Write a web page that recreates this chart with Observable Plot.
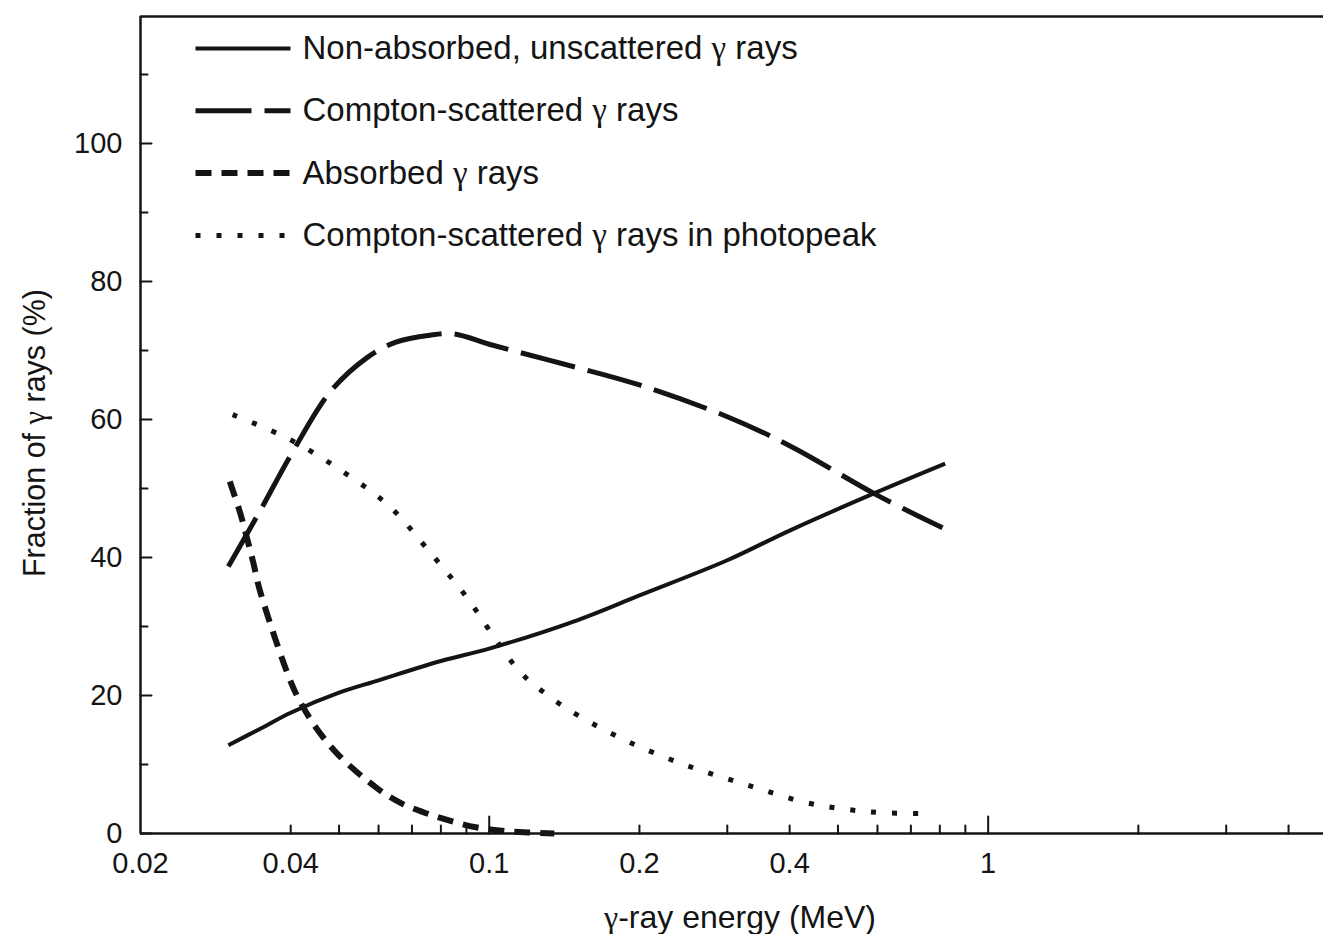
<!DOCTYPE html>
<html>
<head>
<meta charset="utf-8">
<script src="https://cdn.jsdelivr.net/npm/d3@7"></script>
<script src="https://cdn.jsdelivr.net/npm/@observablehq/plot@0.6"></script>
<style>
  html, body { margin: 0; padding: 0; background: #ffffff; overflow: hidden; }
  #chart svg { display: block; }
  .greek { font-family: 'Liberation Serif', 'Times New Roman', serif; }
</style>
</head>
<body>
<div id="chart"></div>
<script>
// ---------- data ----------
const seriesNames = [
  "Non-absorbed, unscattered \u03b3 rays",
  "Compton-scattered \u03b3 rays",
  "Absorbed \u03b3 rays",
  "Compton-scattered \u03b3 rays in photopeak"
];

const energyUnscattered = [0.030, 0.035, 0.040, 0.050, 0.060, 0.080, 0.100, 0.150, 0.200, 0.300, 0.400, 0.600, 0.820];
const fracUnscattered   = [12.8, 15.3, 17.5, 20.4, 22.2, 25.0, 26.8, 30.9, 34.5, 39.6, 43.9, 49.5, 53.6];

const energyCompton = [0.030, 0.035, 0.040, 0.048, 0.057, 0.065, 0.076, 0.085, 0.100, 0.130, 0.200, 0.300, 0.400, 0.600, 0.810];
const fracCompton   = [38.7, 47.2, 54.8, 64.0, 69.0, 71.2, 72.2, 72.4, 70.9, 68.7, 65.0, 60.4, 56.2, 49.0, 44.3];

const energyAbsorbed = [0.0302, 0.0317, 0.0327, 0.0337, 0.0347, 0.040, 0.042, 0.045, 0.050, 0.060, 0.067, 0.075, 0.083, 0.094, 0.106, 0.120, 0.135];
const fracAbsorbed   = [51.0, 46.4, 42.8, 39.1, 35.2, 22.0, 18.8, 15.3, 11.3, 6.4, 4.3, 2.9, 1.9, 0.9, 0.4, 0.15, 0.0];

const energyPhotopeak = [0.0306, 0.0396, 0.0505, 0.0631, 0.0762, 0.0904, 0.100, 0.115, 0.130, 0.150, 0.190, 0.250, 0.330, 0.430, 0.520, 0.620, 0.766];
const fracPhotopeak   = [60.7, 57.2, 52.6, 47.4, 40.7, 34.1, 29.5, 23.5, 20.2, 17.2, 13.3, 9.8, 7.0, 4.5, 3.5, 3.0, 2.9];

// axes
const xDomain = [0.02, 4.7];
const yDomain = [0, 118.4];
const xTickLabels = [0.02, 0.04, 0.1, 0.2, 0.4, 1];
const xMajorTicks = [0.1, 1];
const xMinorTicks = [0.04, 0.05, 0.06, 0.07, 0.08, 0.09, 0.2, 0.3, 0.4, 0.5, 0.6, 0.7, 0.8, 0.9, 2, 3, 4];
const yMajorTicks = [0, 20, 40, 60, 80, 100];
const yMinorTicks = [10, 30, 50, 70, 90, 110];
const xTitle = "\u03b3-ray energy (MeV)";
const yTitle = "Fraction of \u03b3 rays (%)";

// ---------- build table ----------
const toRows = (name, xs, ys) => xs.map((e, i) => ({series: name, energy: e, fraction: ys[i]}));
const rows = [
  ...toRows(seriesNames[0], energyUnscattered, fracUnscattered),
  ...toRows(seriesNames[1], energyCompton, fracCompton),
  ...toRows(seriesNames[2], energyAbsorbed, fracAbsorbed),
  ...toRows(seriesNames[3], energyPhotopeak, fracPhotopeak)
];

// ---------- styles ----------
const ink = "#141414";
const styles = [
  {strokeWidth: 4,   strokeDasharray: null},
  {strokeWidth: 5,   strokeDasharray: "56,13"},
  {strokeWidth: 6,   strokeDasharray: "16,10"},
  {strokeWidth: 5,   strokeDasharray: "5,16"}
];
const font = "'Liberation Sans', Arial, Helvetica, sans-serif";
const hline = {draw(context, l) { context.moveTo(0, 0); context.lineTo(0, -l); }};

const curveMarks = seriesNames.map((name, i) =>
  Plot.line(rows.filter(d => d.series === name), {
    x: "energy", y: "fraction",
    curve: "catmull-rom",
    stroke: ink,
    strokeWidth: styles[i].strokeWidth,
    strokeDasharray: styles[i].strokeDasharray,
    strokeLinecap: "butt"
  })
);

const legendMarks = seriesNames.flatMap((name, i) => [
  Plot.vector([name], {
    frameAnchor: "top-left", dx: 55, dy: 32 + 62.3 * i,
    length: 95, rotate: 90, anchor: "start", shape: hline,
    stroke: ink, strokeWidth: styles[i].strokeWidth,
    strokeDasharray: styles[i].strokeDasharray, strokeLinecap: "butt"
  }),
  Plot.text([name], {
    text: d => d, frameAnchor: "top-left", dx: 162, dy: 32 + 62.3 * i,
    textAnchor: "start", lineAnchor: "middle", fontSize: 33, fill: ink
  })
]);

const chart = Plot.plot({
  width: 1323,
  height: 934,
  marginLeft: 140,
  marginRight: 0,
  marginTop: 16,
  marginBottom: 101,
  style: {fontFamily: font, background: "#ffffff", color: ink},
  x: {type: "log", domain: xDomain, axis: null},
  y: {domain: yDomain, axis: null},
  marks: [
    // frame lines
    Plot.ruleY([yDomain[0]], {stroke: ink, strokeWidth: 2.5}),
    Plot.ruleY([yDomain[1]], {stroke: ink, strokeWidth: 2.5}),
    Plot.ruleX([xDomain[0]], {stroke: ink, strokeWidth: 2.5}),
    // inward ticks on the y axis
    Plot.vector(yMajorTicks, {y: d => d, frameAnchor: "left", length: 11, rotate: 90, anchor: "start", shape: hline, stroke: ink, strokeWidth: 2}),
    Plot.vector(yMinorTicks, {y: d => d, frameAnchor: "left", length: 7, rotate: 90, anchor: "start", shape: hline, stroke: ink, strokeWidth: 2}),
    // inward ticks on the x axis
    Plot.vector(xMajorTicks, {x: d => d, frameAnchor: "bottom", length: 17, rotate: 0, anchor: "start", shape: hline, stroke: ink, strokeWidth: 2}),
    Plot.vector(xMinorTicks, {x: d => d, frameAnchor: "bottom", length: 8, rotate: 0, anchor: "start", shape: hline, stroke: ink, strokeWidth: 2}),
    // tick labels
    Plot.axisY({ticks: yMajorTicks, tickSize: 0, tickPadding: 18, fontSize: 29, label: null, fill: ink, tickFormat: d => String(d)}),
    Plot.axisX({ticks: xTickLabels, tickSize: 0, tickPadding: 19, fontSize: 29, label: null, fill: ink, tickFormat: d => String(d)}),
    // axis titles
    Plot.text([xTitle], {text: d => d, frameAnchor: "bottom", textAnchor: "middle", dx: 8, dy: 84, fontSize: 32, lineAnchor: "middle", fill: ink}),
    Plot.text([yTitle], {text: d => d, frameAnchor: "left", textAnchor: "middle", dx: -105, dy: 8, rotate: -90, fontSize: 30.5, lineAnchor: "middle", fill: ink}),
    // curves
    ...curveMarks,
    // legend
    ...legendMarks
  ]
});

// render the Greek gamma in a serif face, as in the original figure
d3.select(chart).selectAll("text").each(function () {
  const el = this;
  const txt = el.textContent;
  if (!txt.includes("\u03b3") || el.querySelector("tspan")) return;
  const parts = txt.split("\u03b3");
  el.textContent = "";
  parts.forEach((p, i) => {
    if (i > 0) {
      const g = document.createElementNS("http://www.w3.org/2000/svg", "tspan");
      g.setAttribute("class", "greek");
      g.textContent = "\u03b3";
      el.appendChild(g);
    }
    if (p) el.appendChild(document.createTextNode(p));
  });
});

document.getElementById("chart").append(chart);
</script>
</body>
</html>
